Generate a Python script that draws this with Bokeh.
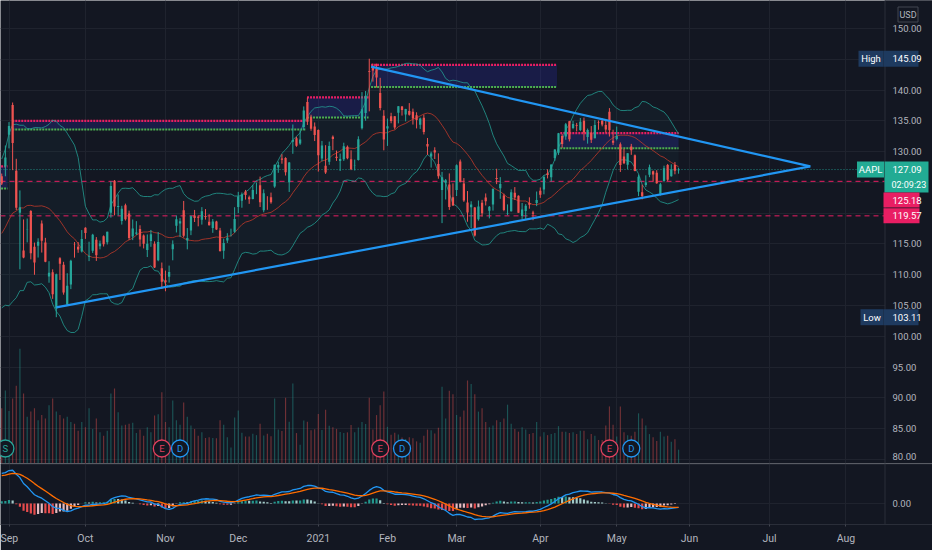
import numpy as np
from bokeh.plotting import figure
from bokeh.layouts import column
from bokeh.models import Range1d, FixedTicker
from bokeh.embed import file_html
from bokeh.resources import INLINE
from bokeh.core.properties import value

# ---------------- data (AAPL daily, index 0 = 2020-09-01, first row = 2020-08-28) ----------------
first_index = -2
hist_close = [91.03, 91.03, 93.46, 93.17, 95.34, 95.75, 95.92, 95.48, 97.06, 97.72, 96.52, 96.33,
              98.36, 97.00, 97.27, 92.85, 92.61, 94.81, 93.25, 95.04, 96.19, 106.26,
              108.94, 109.67, 110.06, 113.90, 111.11, 112.73, 109.38, 113.01, 115.01, 114.91,
              114.61, 115.56, 115.71, 118.28, 124.37, 125.86, 124.82, 126.52, 125.01]

opens = [126.01, 127.58, 132.76, 137.59, 126.91, 120.07, 113.95, 117.26, 120.36, 114.57, 114.72, 118.33,
         115.23, 109.72, 110.40, 104.54, 112.68, 111.62, 105.17, 108.43, 115.01, 114.55, 113.79,
         117.64, 112.89, 113.91, 115.70, 114.62, 116.25, 115.28, 120.06, 125.27, 121.00,
         118.72, 121.28, 119.96, 116.20, 116.67, 117.45, 116.39, 114.01, 115.49, 115.05, 112.37, 111.06,
         109.11, 109.66, 114.14, 117.95, 118.32, 120.50, 115.55, 117.19, 119.62, 119.44,
         118.92, 119.55, 118.61, 117.59, 118.64, 117.18, 113.91, 115.55, 116.57, 116.97,
         121.01, 122.02, 123.52, 122.60, 122.31, 124.37, 124.53, 120.50, 122.43, 122.60,
         124.34, 127.41, 128.90, 128.96, 125.02, 131.61, 132.16, 131.32, 133.99, 138.05, 135.58, 134.08,
         133.52, 128.89, 127.72, 128.36, 132.43, 129.19, 128.50, 128.76, 130.80, 128.78,
         127.78, 128.66, 133.80, 136.28, 143.07, 143.60, 143.43, 139.52, 135.83,
         133.75, 135.73, 135.76, 136.30, 137.35, 136.03, 136.62, 136.48, 135.90, 134.35,
         135.49, 131.25, 129.20, 130.24, 128.01, 123.76, 124.94, 124.68, 122.59,
         123.75, 128.41, 124.81, 121.75, 120.98, 120.93, 119.03, 121.69, 122.54, 120.40,
         121.41, 125.70, 124.05, 122.88, 119.90, 120.33, 123.33, 122.82, 119.54, 120.35, 121.65, 120.11, 121.65,
         123.66, 123.87, 126.50, 125.83, 128.95, 129.80, 132.52, 132.44, 134.94, 133.82,
         134.30, 133.51, 135.02, 132.36, 133.04, 132.16, 134.83, 135.01, 134.31, 136.47, 131.78,
         132.04, 131.19, 129.20, 127.89, 130.85, 129.41, 123.50, 123.40, 124.58, 126.25,
         126.82, 126.56, 123.16, 125.23, 127.82, 126.01, 127.82, 126.96]

highs = [126.44, 131.00, 134.80, 137.98, 128.84, 123.70, 118.99, 119.14, 120.50, 115.23, 115.93, 118.83,
         116.00, 112.20, 110.88, 110.19, 112.86, 112.11, 110.25, 112.44, 115.32, 115.31, 117.26,
         117.72, 115.37, 116.65, 116.12, 115.55, 116.40, 117.00, 125.18, 125.39, 123.03,
         121.20, 121.55, 120.42, 118.98, 118.71, 118.04, 116.55, 116.55, 117.28, 115.43, 116.93, 111.99,
         110.68, 111.49, 115.59, 119.62, 119.20, 121.99, 117.59, 119.63, 120.53, 119.67,
         120.99, 120.67, 119.82, 119.06, 118.77, 117.62, 115.85, 116.75, 117.49, 120.97,
         123.47, 123.37, 123.78, 122.86, 124.57, 124.98, 125.95, 123.87, 122.76, 123.35,
         127.90, 128.37, 129.58, 129.10, 128.31, 134.41, 132.43, 133.46, 137.34, 138.79, 135.99, 134.74,
         133.61, 131.74, 131.05, 131.63, 132.63, 130.17, 129.69, 131.45, 131.00, 130.22,
         128.71, 132.49, 139.67, 139.85, 145.09, 144.30, 144.30, 141.99, 136.74,
         135.38, 136.31, 135.77, 137.40, 137.42, 136.96, 137.88, 136.99, 136.39, 135.53,
         136.01, 132.22, 129.99, 130.71, 129.72, 126.71, 125.56, 126.46, 124.85,
         127.93, 128.72, 125.71, 123.60, 121.94, 121.00, 122.06, 122.17, 123.21, 121.17,
         124.00, 127.22, 125.86, 123.18, 121.43, 123.87, 124.24, 122.90, 121.66, 121.48, 122.58, 120.40, 123.52,
         124.18, 126.16, 127.13, 127.92, 130.39, 133.04, 132.85, 134.66, 135.00, 135.00,
         134.67, 135.47, 135.53, 133.75, 134.15, 135.12, 135.06, 135.41, 135.02, 137.07, 133.56,
         134.07, 131.49, 130.45, 129.75, 131.26, 129.54, 126.27, 124.64, 126.15, 127.89,
         126.93, 126.99, 124.92, 127.72, 128.00, 127.94, 128.32, 127.39]

lows = [124.58, 126.00, 130.53, 127.00, 120.50, 110.89, 112.68, 115.26, 112.50, 110.00, 112.80, 113.61,
        112.04, 108.71, 106.09, 103.11, 109.16, 106.77, 105.00, 107.67, 112.78, 113.57, 113.62,
        115.83, 112.22, 113.55, 112.25, 114.13, 114.59, 114.92, 119.28, 119.65, 119.62,
        118.15, 118.81, 115.66, 115.63, 116.45, 114.59, 114.28, 112.88, 114.54, 111.10, 112.20, 107.72,
        107.32, 108.73, 112.35, 116.87, 116.13, 116.05, 114.13, 116.44, 118.57, 117.87,
        118.15, 118.96, 118.00, 116.81, 117.29, 113.75, 112.59, 115.17, 116.22, 116.81,
        120.01, 120.89, 122.21, 121.52, 122.25, 123.09, 121.00, 120.15, 120.55, 121.54,
        124.13, 126.56, 128.04, 126.12, 123.45, 129.65, 130.78, 131.10, 133.51, 134.34, 133.40, 131.72,
        126.76, 128.43, 126.38, 127.86, 130.23, 128.50, 126.86, 128.49, 128.76, 127.00,
        126.94, 128.55, 133.59, 135.02, 136.54, 141.37, 140.41, 136.70, 130.21,
        130.93, 134.61, 133.61, 134.59, 135.86, 134.92, 135.85, 134.40, 133.77, 133.69,
        132.79, 129.47, 127.41, 128.80, 125.60, 118.39, 122.23, 120.54, 121.20,
        122.79, 125.01, 121.84, 118.62, 117.57, 116.21, 118.79, 119.45, 121.26, 119.16,
        120.42, 124.72, 122.34, 120.32, 119.68, 120.26, 122.14, 120.07, 119.00, 118.92, 120.73, 118.86, 121.15,
        122.49, 123.07, 125.65, 125.14, 128.52, 129.47, 130.63, 131.93, 131.66, 133.64,
        133.28, 133.34, 131.81, 131.30, 131.41, 132.16, 133.56, 134.11, 133.08, 132.45, 131.07,
        131.83, 126.70, 127.97, 127.13, 129.48, 126.81, 122.77, 122.25, 124.26, 125.85,
        125.17, 124.78, 122.86, 125.10, 125.21, 125.94, 126.32, 126.42]

closes = [124.81, 129.04, 134.18, 131.40, 120.88, 120.96, 112.82, 117.32, 113.49, 112.00, 115.36, 115.54,
          112.13, 110.34, 106.84, 110.08, 111.81, 107.12, 108.22, 112.28, 114.96, 114.09, 115.81,
          116.79, 113.02, 116.50, 113.16, 115.08, 114.97, 116.97, 124.40, 121.10, 121.19,
          120.71, 119.02, 115.98, 117.51, 116.87, 115.75, 115.04, 115.05, 116.60, 111.20, 115.32, 108.86,
          108.77, 110.44, 114.95, 119.03, 118.69, 116.32, 115.97, 119.49, 119.21, 119.26,
          120.30, 119.39, 118.03, 118.64, 117.34, 113.85, 115.17, 116.03, 116.59, 119.05,
          122.72, 123.08, 122.94, 122.25, 123.75, 124.38, 121.78, 123.24, 122.41, 121.78,
          127.88, 127.81, 128.70, 126.66, 128.23, 131.88, 130.96, 131.97, 136.69, 134.87, 133.72, 132.69,
          129.41, 131.01, 126.60, 130.92, 132.05, 128.98, 128.80, 130.89, 128.91, 127.14,
          127.83, 132.03, 136.87, 139.07, 142.92, 143.16, 142.06, 137.09, 131.96,
          134.14, 134.99, 133.94, 137.39, 136.76, 136.91, 136.01, 135.39, 135.13, 135.37,
          133.19, 130.84, 129.71, 129.87, 126.00, 125.86, 125.35, 120.99, 121.26,
          127.79, 125.12, 122.06, 120.13, 121.42, 116.36, 121.09, 119.98, 121.96, 121.03,
          123.99, 125.57, 124.76, 120.53, 119.99, 123.39, 122.54, 120.09, 120.59, 121.21, 121.39, 119.90, 122.15,
          123.00, 125.90, 126.21, 127.90, 130.36, 133.00, 131.24, 134.43, 132.03, 134.50,
          134.16, 134.84, 133.11, 133.50, 131.94, 134.32, 134.72, 134.39, 133.58, 133.48, 131.46,
          132.54, 127.85, 128.10, 129.74, 130.21, 126.85, 125.91, 122.77, 124.97, 127.45,
          126.27, 124.85, 124.69, 127.31, 125.43, 127.10, 126.90, 127.09]

volumes = [160, 211, 152, 188, 225, 332, 202, 135, 150, 160, 125, 140,
           130, 168, 188, 150, 140, 130, 135, 120, 115, 95, 120,
           105, 160, 100, 130, 90, 80, 95, 202, 217, 148,
           110, 112, 115, 118, 88, 98, 80, 105, 90, 139, 142, 206,
           120, 105, 182, 125, 112, 176, 135, 110, 100, 80, 90, 74, 76, 74, 73, 125, 112, 76, 46, 133,
           153, 89, 78, 78, 86, 82, 115, 81, 86, 79, 188, 98, 94, 190, 121, 231, 88, 54, 124, 121, 96, 99,
           143, 97, 155, 109, 105, 100, 91, 88, 90, 111, 90, 104, 120, 114, 190, 98, 140, 168, 208,
           106, 83, 89, 84, 75, 71, 76, 73, 64, 60, 80, 98, 96, 87, 103, 222, 130, 210, 200,
           140, 135, 153, 240, 230, 200, 150, 160, 120, 105, 110, 125, 120, 130, 170, 115, 100, 92, 105, 98, 85, 88, 120,
           78, 90, 82, 85, 88, 108, 92, 92, 88, 90, 85, 95, 95, 70, 85, 80, 68, 68, 110, 165, 112,
           78, 165, 90, 82, 80, 92, 145, 130, 110, 85, 76, 65, 92, 78, 80, 63, 70, 40]

month_ticks = [0, 21, 43, 63, 85, 104, 123, 146, 167, 187, 209, 230]
month_labels = ["Sep", "Oct", "Nov", "Dec", "2021", "Feb", "Mar", "Apr", "May", "Jun", "Jul", "Aug"]
price_ticks = [150, 145, 140, 135, 130, 125, 120, 115, 110, 105, 100, 95, 90, 85, 80]
hidden_price_ticks = [145, 125, 120]
macd_ticks = [0]
level_prices = [125.18, 119.57]

box_x0 = [-3.0, 0.9, 81.9, 99.5, 151.5]
box_x1 = [-0.4, 81.5, 98.8, 150.6, 184.0]
box_top = [127.6, 135.0, 138.8, 144.1, 133.0]
box_bottom = [124.0, 133.6, 135.55, 140.5, 130.55]

lower_tl_x = [13, 220.2]
lower_tl_y = [104.7, 127.6]
upper_tl_x = [99.5, 220.2]
upper_tl_y = [143.8, 127.6]

event_x = [-1, 42, 47, 102, 108, 165, 171]
event_kind = ["S", "E", "D", "E", "D", "E", "D"]
symbol = "AAPL"
currency = "USD"
countdown = "02:09:23"

# ---------------- layout constants (pixel geometry of the page) ----------------
BG = "#131722"
GRID = "#1f232e"
TXT = "#b2b5be"
SEP = "#2a2e39"
FONT = "Roboto"
FS = "9.5px"
W, H_MAIN, H_MACD = 932, 463, 87
PX_DAY, IDX0_PX = 3.639, 8.5
PX_PRICE, P150_PX = 6.157, 28.0
AXIS_PX = 884.5
MAIN_BOTTOM_PX = 463.0
MACD_BOTTOM_PX = 524.0
ZERO_PX = 503.0
VOL_PX_PER_M = 0.346
MARK_PX_Y = 448.0
LABEL_PX_X = 892.0


def rx(px):
    return (px - IDX0_PX) / PX_DAY


def rp(py):
    return 150.0 - (py - P150_PX) / PX_PRICE


def ry(price):
    return P150_PX + (150.0 - price) * PX_PRICE


n = len(closes)
assert len(opens) == n and len(highs) == n and len(lows) == n and len(volumes) == n, \
    (len(opens), len(highs), len(lows), n, len(volumes))
idx = np.arange(n) + first_index
o = np.array(opens); h = np.array(highs); l = np.array(lows); c = np.array(closes)
allc = np.array(hist_close + closes)

# Bollinger bands (20, 2)
bb_mid = np.full(len(allc), np.nan); bb_up = bb_mid.copy(); bb_lo = bb_mid.copy()
for i in range(19, len(allc)):
    win = allc[i - 19:i + 1]
    m_ = win.mean(); s_ = win.std()
    bb_mid[i] = m_; bb_up[i] = m_ + 2 * s_; bb_lo[i] = m_ - 2 * s_
bb_mid = bb_mid[-n:]; bb_up = bb_up[-n:]; bb_lo = bb_lo[-n:]


def ema(a, span):
    k = 2.0 / (span + 1)
    out = np.empty(len(a)); out[0] = a[0]
    for i in range(1, len(a)):
        out[i] = a[i] * k + out[i - 1] * (1 - k)
    return out


macd_all = ema(allc, 12) - ema(allc, 26)
sig_all = ema(macd_all, 9)
macd = macd_all[-n:]; sig = sig_all[-n:]; hist = macd - sig

up = c >= o
ccol = np.where(up, "#26a69a", "#ef5350")
hcol = []
for i in range(n):
    hv = hist[i]; pv = hist[i - 1] if i > 0 else hv
    if hv >= 0:
        hcol.append("#26a69a" if hv >= pv else "#b2dfdb")
    else:
        hcol.append("#ff5252" if hv < pv else "#ffcdd2")

x_range = Range1d(rx(0), rx(W))
x_plot_end = rx(AXIS_PX)

# ---------------- main price pane ----------------
p = figure(width=W, height=H_MAIN, x_range=x_range,
           y_range=Range1d(rp(MAIN_BOTTOM_PX), rp(0)),
           y_axis_location=None, x_axis_location=None,
           output_backend="svg", toolbar_location=None,
           background_fill_color=BG, border_fill_color=BG, outline_line_color=None,
           min_border_left=0, min_border_right=0, min_border_top=0, min_border_bottom=0)
p.extra_y_ranges = {"vol": Range1d(0, H_MAIN / VOL_PX_PER_M)}
p.xgrid.ticker = FixedTicker(ticks=month_ticks)
p.ygrid.ticker = FixedTicker(ticks=price_ticks)
p.xgrid.grid_line_color = GRID
p.ygrid.grid_line_color = GRID

# bollinger fill
p.varea(x=idx, y1=bb_lo, y2=bb_up, fill_color="#26a69a", fill_alpha=0.05)
# volume
p.vbar(x=idx, bottom=0, top=volumes, width=0.32, fill_color=ccol, line_color=None,
       fill_alpha=0.42, y_range_name="vol")
# boxes
p.quad(left=box_x0, right=box_x1, top=box_top, bottom=box_bottom,
       fill_color="#2b2ba8", fill_alpha=0.28, line_color=None)
p.segment(x0=box_x0, x1=box_x1, y0=box_top, y1=box_top, line_color="#e91e63", line_width=2.2, line_dash="2 1")
p.segment(x0=box_x0, x1=box_x1, y0=box_bottom, y1=box_bottom, line_color="#4caf50", line_width=2, line_dash="2 1")
# levels and current price line
nl = len(level_prices)
p.segment(x0=[rx(0)] * nl, x1=[x_plot_end] * nl, y0=level_prices, y1=level_prices,
          line_color="#e91e63", line_dash="5 4", line_width=1)
p.segment(x0=[rx(0)], x1=[x_plot_end], y0=[closes[-1]], y1=[closes[-1]],
          line_color="#26a69a", line_alpha=0.8, line_dash="1 2", line_width=1)
# bollinger lines
p.line(idx, bb_up, line_color="#26a69a", line_width=1, line_alpha=0.75)
p.line(idx, bb_lo, line_color="#26a69a", line_width=1, line_alpha=0.75)
p.line(idx, bb_mid, line_color="#c0392b", line_width=1, line_alpha=0.8)
# candles
p.segment(x0=idx, x1=idx, y0=l, y1=h, line_color=ccol, line_width=1)
p.vbar(x=idx, bottom=np.minimum(o, c), top=np.maximum(o, c), width=0.62,
       fill_color=ccol, line_color=None)
# triangle
p.line(lower_tl_x, lower_tl_y, line_color="#2196f3", line_width=2.2)
p.line(upper_tl_x, upper_tl_y, line_color="#2196f3", line_width=2.2)
# events
ev_col = {"S": "#26a69a", "E": "#e0405e", "D": "#2196f3"}
ecols = [ev_col[k] for k in event_kind]
ey = [rp(MARK_PX_Y)] * len(event_x)
p.scatter(event_x, ey, marker="circle", size=17, fill_color=BG, line_color=ecols, line_width=1.3)
p.text(event_x, ey, text=event_kind, text_color=ecols, text_align="center", text_baseline="middle",
       text_font=value(FONT), text_font_size="9.5px")

# ---------------- price scale (right) ----------------
p.quad(left=[x_plot_end], right=[rx(W + 2)], bottom=[rp(MAIN_BOTTOM_PX + 2)], top=[rp(-2)],
       fill_color=BG, line_color=None)
p.segment(x0=[x_plot_end], x1=[x_plot_end], y0=[rp(MAIN_BOTTOM_PX + 2)], y1=[rp(-2)],
          line_color=SEP, line_width=1)
shown = [t for t in price_ticks if t not in hidden_price_ticks]
label_y = [rp(min(ry(t), MAIN_BOTTOM_PX - 7)) for t in shown]   # keep the lowest label inside the pane
p.text(x=[rx(LABEL_PX_X)] * len(shown), y=label_y, text=[f"{t:.2f}" for t in shown],
       text_color=TXT, text_align="left", text_baseline="middle",
       text_font=value(FONT), text_font_size=FS)


def tag_box(cx_px, w_px, y, h_px, fill, line=None):
    p.rect(x=[rx(cx_px)], y=[y], width=w_px, height=h_px, width_units="screen", height_units="screen",
           fill_color=fill, line_color=line)


def tag_text(x_px, y, text, align, color="#ffffff", size=FS):
    p.text(x=[rx(x_px)], y=[y], text=[text], text_color=color, text_align=align, text_baseline="middle",
           text_font=value(FONT), text_font_size=size)


hi_val = max(highs); lo_val = min(lows); last = closes[-1]
BLUE_TAG = "#1e3a5f"; GREEN_TAG = "#22ab94"; RED_TAG = "#e91e63"
# currency
tag_box(907.5, 20, rp(14), 15, BG, "#434651")
tag_text(907.5, rp(14), currency, "center", TXT, "9px")
# High
tag_box(870.5, 25, hi_val, 16, BLUE_TAG)
tag_text(870.5, hi_val, "High", "center")
tag_box(900.5, 35, hi_val, 16, BLUE_TAG)
tag_text(LABEL_PX_X, hi_val, f"{hi_val:.2f}", "left")
# symbol + last price + countdown
tag_box(870.0, 27, last, 16, GREEN_TAG)
tag_text(870.0, last, symbol, "center")
box_top_px = ry(last) - 8
tag_box(906.0, 44, rp(box_top_px + 15.5), 31, GREEN_TAG)
tag_text(LABEL_PX_X, last, f"{last:.2f}", "left")
tag_text(LABEL_PX_X - 1, rp(ry(last) + 15), countdown, "left", size="9px")
# level tags (shifted down when they would overlap)
prev_bottom = box_top_px + 31
for lv in level_prices:
    cy = max(ry(lv), prev_bottom + 7.5)
    tag_box(901.0, 36, rp(cy), 15, RED_TAG)
    tag_text(LABEL_PX_X, rp(cy), f"{lv:.2f}", "left")
    prev_bottom = cy + 7.5
# Low
tag_box(871.5, 23, lo_val, 16, BLUE_TAG)
tag_text(871.5, lo_val, "Low", "center")
tag_box(900.5, 35, lo_val, 16, BLUE_TAG)
tag_text(LABEL_PX_X, lo_val, f"{lo_val:.2f}", "left")

# ---------------- MACD pane ----------------
vis = idx >= 15
su = max(np.abs(macd[vis]).max(), np.abs(sig[vis]).max()) / 18.0
m = figure(width=W, height=H_MACD, x_range=x_range,
           y_range=Range1d(-(MACD_BOTTOM_PX - ZERO_PX) * su, (ZERO_PX - MAIN_BOTTOM_PX) * su),
           y_axis_location=None, output_backend="svg", toolbar_location=None,
           background_fill_color=BG, border_fill_color=BG, outline_line_color=None,
           min_border_left=0, min_border_right=0, min_border_top=0, min_border_bottom=26)
m.xgrid.ticker = FixedTicker(ticks=month_ticks)
m.ygrid.ticker = FixedTicker(ticks=macd_ticks)
m.xgrid.grid_line_color = GRID
m.ygrid.grid_line_color = GRID
mx = m.xaxis[0]
mx.ticker = FixedTicker(ticks=month_ticks)
mx.major_label_overrides = {t: lab for t, lab in zip(month_ticks, month_labels)}
mx.major_label_text_color = TXT
mx.major_label_text_font = FONT
mx.major_label_text_font_size = "10.5px"
mx.axis_line_color = SEP
mx.major_tick_line_color = "#434651"
mx.major_tick_out = 2
mx.major_tick_in = 0
mx.minor_tick_line_color = None
mx.major_label_standoff = 5

m.vbar(x=idx, bottom=0, top=hist, width=0.6, fill_color=hcol, line_color=None, fill_alpha=0.9)
m.line(idx, macd, line_color="#2196f3", line_width=1.3)
m.line(idx, sig, line_color="#ff6d00", line_width=1.3)
# pane separator on top
m_top = (ZERO_PX - MAIN_BOTTOM_PX) * su
m.segment(x0=[rx(0)], x1=[rx(W)], y0=[m_top], y1=[m_top], line_color=SEP, line_width=2)
# price scale area of MACD pane
m_bot = -(MACD_BOTTOM_PX - ZERO_PX) * su
m.quad(left=[x_plot_end], right=[rx(W + 2)], bottom=[m_bot * 1.1], top=[m_top * 0.97],
       fill_color=BG, line_color=None)
m.segment(x0=[x_plot_end], x1=[x_plot_end], y0=[m_bot * 1.1], y1=[m_top * 1.1], line_color=SEP, line_width=1)
m.text(x=[rx(LABEL_PX_X)] * len(macd_ticks), y=macd_ticks, text=[f"{t:.2f}" for t in macd_ticks],
       text_color=TXT, text_align="left", text_baseline="middle",
       text_font=value(FONT), text_font_size=FS)

layout = column(p, m, spacing=0)
html = file_html(layout, INLINE, "AAPL")
html = html.replace("<body>", '<body style="background-color:#131722;">', 1)
open("out.html", "w").write(html)
